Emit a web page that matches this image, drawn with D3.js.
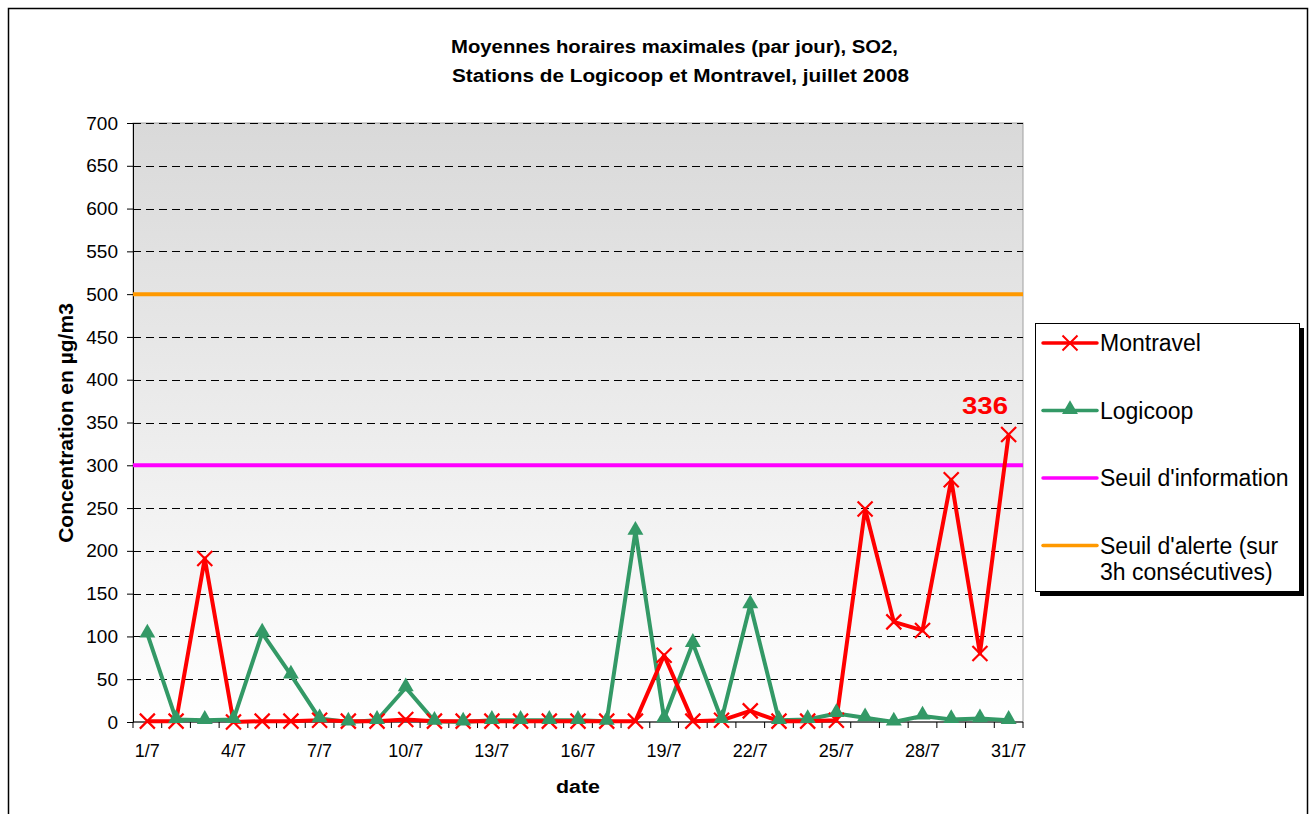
<!DOCTYPE html>
<html>
<head>
<meta charset="utf-8">
<script src="https://cdn.jsdelivr.net/npm/d3@7"></script>
<style>
body { margin: 0; background: #fff; }
text { font-family: Arial, "Liberation Sans", sans-serif; }
</style>
</head>
<body>
<svg id="chart" width="1316" height="814"></svg>
<script>
"use strict";

var days = d3.range(1, 32).map(function(d){ return d + "/7"; });
var montravel = [1,1,191,0,1,1,2,1,1,3,1,1,1,1,1,1,1,1,78,1,2,13,1,1,2,249,117,107,283,80,336];
var logicoop = [103,3,2,3,104,55,4,0,2,40,1,0,2,2,2,2,1,223,4,92,3,137,2,3,10,5,0,7,3,4,2];
var yTicks = d3.range(0, 701, 50);
var seuilInfo = 300;
var seuilAlerte = 500;
var legendItems = ["Montravel", "Logicoop", "Seuil d'information", "Seuil d'alerte (sur|3h consécutives)"];

var svg = d3.select('#chart');
var plotL = 133, plotR = 1023, plotT = 123, plotB = 722;

// outer frame
svg.append('rect').attr('x', 8.5).attr('y', 8.5).attr('width', 1299).attr('height', 820)
	.attr('fill', '#fff').attr('stroke', '#000').attr('stroke-width', 1.5);

var defs = svg.append('defs');
var grad = defs.append('linearGradient').attr('id', 'bg').attr('x1', 0).attr('y1', 0).attr('x2', 0).attr('y2', 1);
grad.append('stop').attr('offset', '0%').attr('stop-color', '#d9d9d9');
grad.append('stop').attr('offset', '100%').attr('stop-color', '#ffffff');

var x = d3.scaleBand().domain(days).range([plotL, plotR]);
var y = d3.scaleLinear().domain([0, 700]).range([plotB, plotT]);
function cx(i) { return x(days[i]) + x.bandwidth()/2; }

svg.append('rect').attr('x', plotL).attr('y', plotT).attr('width', plotR-plotL).attr('height', plotB-plotT)
	.attr('fill', 'url(#bg)').attr('stroke', '#a0a0a0').attr('stroke-width', 1);

// grid
svg.append('g').selectAll('line').data(yTicks.filter(function(v){ return v > 0; })).enter().append('line')
	.attr('x1', plotL).attr('x2', plotR)
	.attr('y1', function(d){ return Math.round(y(d)) + 0.5; })
	.attr('y2', function(d){ return Math.round(y(d)) + 0.5; })
	.attr('stroke', '#000').attr('stroke-width', 1).attr('stroke-dasharray', '8,5');

// y axis
var yAxis = d3.axisLeft(y).tickValues(yTicks).tickSize(6).tickSizeOuter(0).tickFormat(d3.format('d'));
var gy = svg.append('g').attr('transform', 'translate(' + plotL + ',0)').call(yAxis);
gy.selectAll('text').attr('font-size', 19).attr('fill', '#000').attr('x', -15);
gy.selectAll('line, path').attr('stroke', '#000');

// x axis
var gx = svg.append('g').attr('transform', 'translate(0,' + plotB + ')');
gx.append('line').attr('x1', plotL).attr('x2', plotR).attr('stroke', '#000');
gx.selectAll('.tk').data(d3.range(0, 32)).enter().append('line')
	.attr('x1', function(i){ return plotL + i*x.bandwidth(); })
	.attr('x2', function(i){ return plotL + i*x.bandwidth(); })
	.attr('y1', 0).attr('y2', 6).attr('stroke', '#000');
gx.selectAll('text').data(days.filter(function(d, i){ return i % 3 === 0; })).enter().append('text')
	.attr('x', function(d){ return x(d) + x.bandwidth()/2; })
	.attr('y', 35).attr('text-anchor', 'middle').attr('font-size', 18).text(function(d){ return d; });

// thresholds
svg.append('line').attr('x1', plotL).attr('x2', plotR).attr('y1', y(seuilInfo)).attr('y2', y(seuilInfo))
	.attr('stroke', '#ff00ff').attr('stroke-width', 4);
svg.append('line').attr('x1', plotL).attr('x2', plotR).attr('y1', y(seuilAlerte)).attr('y2', y(seuilAlerte))
	.attr('stroke', '#ff9900').attr('stroke-width', 4);

var line = d3.line().x(function(d, i){ return cx(i); }).y(function(d){ return y(d); });

svg.append('path').datum(logicoop).attr('d', line).attr('fill', 'none')
	.attr('stroke', '#339966').attr('stroke-width', 4).attr('stroke-linejoin', 'round');
svg.append('path').datum(montravel).attr('d', line).attr('fill', 'none')
	.attr('stroke', '#ff0000').attr('stroke-width', 4).attr('stroke-linejoin', 'round');

var triangle = d3.symbol().type(d3.symbolTriangle).size(110);
var cross = 'M-7.5,-7.5L7.5,7.5M-7.5,7.5L7.5,-7.5';

svg.append('g').selectAll('path').data(montravel).enter().append('path')
	.attr('transform', function(d, i){ return 'translate(' + cx(i) + ',' + y(d) + ')'; })
	.attr('d', cross).attr('stroke', '#ff0000').attr('stroke-width', 2.2);
svg.append('g').selectAll('path').data(logicoop).enter().append('path')
	.attr('transform', function(d, i){ return 'translate(' + cx(i) + ',' + (y(d) - 1) + ')'; })
	.attr('d', triangle).attr('fill', '#339966');

// label 336
svg.append('text').attr('x', 962).attr('y', 414)
	.attr('font-size', 23).attr('font-weight', 'bold')
	.attr('textLength', 46).attr('lengthAdjust', 'spacingAndGlyphs')
	.attr('fill', '#ff0000').text(montravel[30]);

// titles
svg.append('text').attr('x', 451).attr('y', 53)
	.attr('font-size', 17.5).attr('font-weight', 'bold')
	.attr('textLength', 447).attr('lengthAdjust', 'spacingAndGlyphs')
	.text('Moyennes horaires maximales (par jour), SO2,');
svg.append('text').attr('x', 452).attr('y', 82)
	.attr('font-size', 17.5).attr('font-weight', 'bold')
	.attr('textLength', 457).attr('lengthAdjust', 'spacingAndGlyphs')
	.text('Stations de Logicoop et Montravel, juillet 2008');
svg.append('text').attr('transform', 'translate(73,423) rotate(-90)').attr('text-anchor', 'middle')
	.attr('font-size', 21).attr('font-weight', 'bold').text('Concentration en µg/m3');
svg.append('text').attr('x', 556).attr('y', 793)
	.attr('font-size', 17.5).attr('font-weight', 'bold')
	.attr('textLength', 44).attr('lengthAdjust', 'spacingAndGlyphs').text('date');

// legend
var lg = svg.append('g').attr('transform', 'translate(1035,323)');
lg.append('rect').attr('x', 5).attr('y', 5).attr('width', 264).attr('height', 268).attr('fill', '#000');
lg.append('rect').attr('x', 0.5).attr('y', 0.5).attr('width', 264).attr('height', 268)
	.attr('fill', '#fff').attr('stroke', '#000').attr('stroke-width', 1);
var lgColors = ['#ff0000', '#339966', '#ff00ff', '#ff9900'];
legendItems.forEach(function(name, i){
	var yy = 20 + i*67.5;
	lg.append('line').attr('x1', 8).attr('x2', 62).attr('y1', yy).attr('y2', yy)
		.attr('stroke', lgColors[i]).attr('stroke-width', 3.5).attr('stroke-linecap', 'round');
	if (i === 0) {
		lg.append('path').attr('transform', 'translate(35,' + yy + ')').attr('d', cross)
			.attr('stroke', '#ff0000').attr('stroke-width', 2);
	} else if (i === 1) {
		lg.append('path').attr('transform', 'translate(35,' + (yy - 1) + ')').attr('d', triangle).attr('fill', '#339966');
	}
	var t = lg.append('text').attr('x', 65).attr('y', yy + 8).attr('font-size', 23);
	name.split('|').forEach(function(part, k){
		t.append('tspan').attr('x', 65).attr('dy', k ? 26 : 0).text(part);
	});
});
</script>
</body>
</html>
